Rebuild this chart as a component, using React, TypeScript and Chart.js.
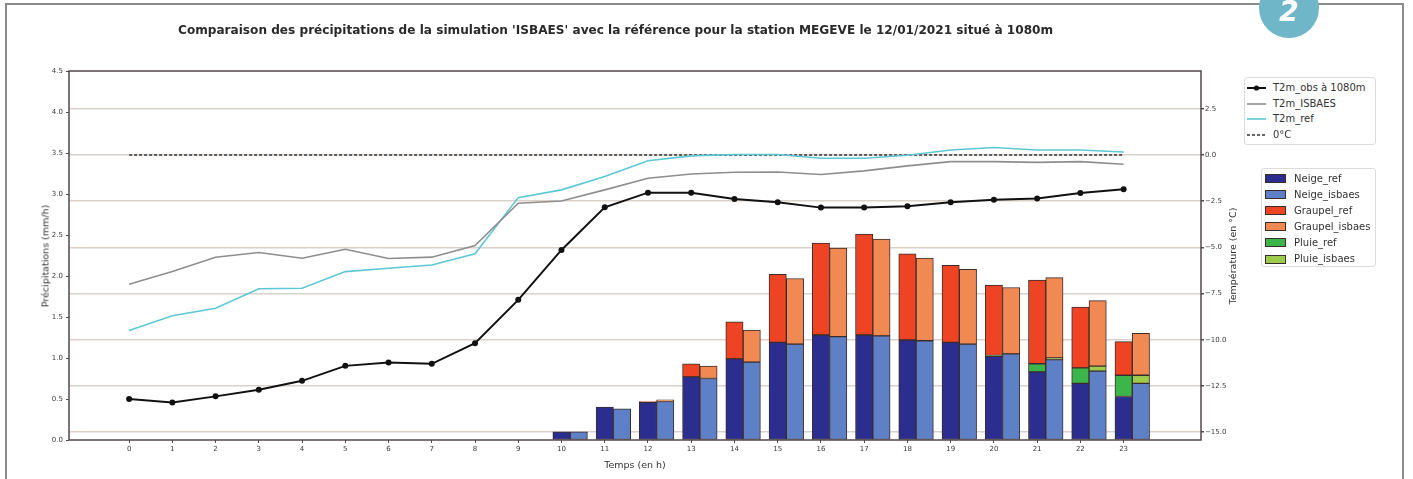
import React, { useEffect, useRef } from 'react';
import { Chart, registerables } from 'chart.js';

Chart.register(...registerables);

// ---------------- data ----------------
const hours = [0, 1, 2, 3, 4, 5, 6, 7, 8, 9, 10, 11, 12, 13, 14, 15, 16, 17, 18, 19, 20, 21, 22, 23];

// temperatures (°C, right axis)
const t2mObs = [-13.2, -13.39, -13.06, -12.7, -12.22, -11.41, -11.23, -11.3, -10.18, -7.84, -5.14, -2.83, -2.04, -2.04, -2.38, -2.56, -2.85, -2.85, -2.78, -2.56, -2.43, -2.36, -2.06, -1.86];
const t2mIsbaes = [-6.99, -6.31, -5.53, -5.28, -5.59, -5.1, -5.6, -5.53, -4.9, -2.61, -2.49, -1.89, -1.26, -1.03, -0.94, -0.92, -1.06, -0.86, -0.59, -0.36, -0.36, -0.4, -0.36, -0.5];
const t2mRef = [-9.5, -8.7, -8.29, -7.24, -7.21, -6.31, -6.13, -5.95, -5.35, -2.31, -1.89, -1.17, -0.31, -0.05, 0.02, 0.02, -0.18, -0.18, -0.02, 0.27, 0.4, 0.27, 0.27, 0.16];
const zeroDeg = [0, 0, 0, 0, 0, 0, 0, 0, 0, 0, 0, 0, 0, 0, 0, 0, 0, 0, 0, 0, 0, 0, 0, 0];

// precipitation (mm/h, left axis)
const neigeRef = [0, 0, 0, 0, 0, 0, 0, 0, 0, 0, 0.1, 0.4, 0.46, 0.77, 0.99, 1.19, 1.28, 1.28, 1.22, 1.19, 1.02, 0.83, 0.69, 0.53];
const pluieRef = [0, 0, 0, 0, 0, 0, 0, 0, 0, 0, 0, 0, 0, 0, 0, 0, 0, 0, 0, 0, 0.01, 0.1, 0.19, 0.26];
const graupelRef = [0, 0, 0, 0, 0, 0, 0, 0, 0, 0, 0, 0, 0.01, 0.16, 0.45, 0.83, 1.12, 1.23, 1.05, 0.94, 0.86, 1.02, 0.74, 0.41];
const neigeIsbaes = [0, 0, 0, 0, 0, 0, 0, 0, 0, 0, 0.1, 0.38, 0.47, 0.75, 0.95, 1.17, 1.26, 1.27, 1.21, 1.17, 1.05, 0.98, 0.84, 0.69];
const pluieIsbaes = [0, 0, 0, 0, 0, 0, 0, 0, 0, 0, 0, 0, 0, 0, 0, 0, 0, 0, 0, 0, 0, 0.02, 0.06, 0.1];
const graupelIsbaes = [0, 0, 0, 0, 0, 0, 0, 0, 0, 0, 0, 0, 0.02, 0.15, 0.39, 0.8, 1.08, 1.18, 1.01, 0.91, 0.81, 0.98, 0.8, 0.51];

const leftTicks = [0, 0.5, 1, 1.5, 2, 2.5, 3, 3.5, 4, 4.5];
const rightTicks = [-15, -12.5, -10, -7.5, -5, -2.5, 0, 2.5];

const TITLE = "Comparaison des précipitations de la simulation 'ISBAES' avec la référence pour la station MEGEVE le 12/01/2021 situé à 1080m";

const lineLegend = [
  { label: 'T2m_obs à 1080m', color: '#111111', width: 2, dash: false, marker: true },
  { label: 'T2m_ISBAES', color: '#8e8e8e', width: 1.6, dash: false, marker: false },
  { label: 'T2m_ref', color: '#5cc8d4', width: 1.6, dash: false, marker: false },
  { label: '0°C', color: '#333333', width: 1.5, dash: true, marker: false },
];
const barLegend = [
  { label: 'Neige_ref', color: '#2b2e8e' },
  { label: 'Neige_isbaes', color: '#5e80c6' },
  { label: 'Graupel_ref', color: '#ef4424' },
  { label: 'Graupel_isbaes', color: '#f08a52' },
  { label: 'Pluie_ref', color: '#3cb54a' },
  { label: 'Pluie_isbaes', color: '#9ccb4e' },
];

const FONT = "'DejaVu Sans', sans-serif";
const TICK_COLOR = '#3a3a3a';

const framePlugin = {
  id: 'frame',
  afterDraw(chart: any) {
    const { ctx, chartArea } = chart;
    ctx.save();
    ctx.strokeStyle = '#52474a';
    ctx.lineWidth = 1.5;
    ctx.strokeRect(chartArea.left, chartArea.top, chartArea.right - chartArea.left, chartArea.bottom - chartArea.top);
    ctx.restore();
  },
};

function fmtMinus(v: number) {
  return v.toFixed(1).replace('-', '\u2212');
}

export default function App() {
  const canvasRef = useRef<HTMLCanvasElement>(null);

  useEffect(() => {
    const barDs = (label: string, values: number[], color: string, stack: string, offset: number) => ({
      type: 'bar' as const,
      label,
      data: hours.map((h, i) => ({ x: h + offset, y: values[i] })),
      backgroundColor: color,
      borderColor: '#3b2c2c',
      borderWidth: 1,
      borderSkipped: false,
      grouped: false,
      barPercentage: 1,
      categoryPercentage: 1,
      stack,
      yAxisID: 'y',
    });
    const lineDs = (label: string, values: number[], color: string, width: number, extra: any = {}) => ({
      type: 'line' as const,
      label,
      data: hours.map((h, i) => ({ x: h, y: values[i] })),
      borderColor: color,
      backgroundColor: color,
      borderWidth: width,
      pointRadius: 0,
      tension: 0,
      yAxisID: 'y2',
      ...extra,
    });

    const chart = new Chart(canvasRef.current as HTMLCanvasElement, {
      type: 'bar',
      data: {
        datasets: [
          lineDs('T2m_obs à 1080m', t2mObs, '#111111', 2, { pointRadius: 3, pointBorderWidth: 0, pointBackgroundColor: '#111111' }),
          lineDs('T2m_ISBAES', t2mIsbaes, '#8e8e8e', 1.6),
          lineDs('T2m_ref', t2mRef, '#5cc8d4', 1.6),
          lineDs('0°C', zeroDeg, '#333333', 1.5, { borderDash: [3, 2] }),
          barDs('Neige_ref', neigeRef, barLegend[0].color, 'ref', 0),
          barDs('Neige_isbaes', neigeIsbaes, barLegend[1].color, 'isbaes', 0.4),
          barDs('Pluie_ref', pluieRef, barLegend[4].color, 'ref', 0),
          barDs('Pluie_isbaes', pluieIsbaes, barLegend[5].color, 'isbaes', 0.4),
          barDs('Graupel_ref', graupelRef, barLegend[2].color, 'ref', 0),
          barDs('Graupel_isbaes', graupelIsbaes, barLegend[3].color, 'isbaes', 0.4),
        ] as any,
      },
      options: {
        responsive: false,
        animation: false,
        devicePixelRatio: 1,
        layout: { padding: { top: 71, left: 0, right: 0, bottom: 0 } },
        plugins: {
          legend: { display: false },
          title: { display: false },
          tooltip: { enabled: false },
        },
        scales: {
          x: {
            type: 'linear',
            offset: false,
            min: -1.39,
            max: 24.79,
            stacked: false,
            ticks: {
              stepSize: 1,
              autoSkip: false,
              maxRotation: 0,
              padding: 2,
              color: TICK_COLOR,
              font: { family: FONT, size: 7 },
              callback: (v: any) => String(v),
            },
            afterBuildTicks: (scale: any) => {
              scale.ticks = hours.map((h) => ({ value: h }));
            },
            grid: { display: true, offset: false, drawOnChartArea: false, drawTicks: true, tickLength: 3, tickColor: '#52474a' },
            border: { display: false },
            afterFit: (scale: any) => {
              scale.height = 39;
            },
          },
          y: {
            type: 'linear',
            position: 'left',
            min: 0,
            max: 4.5,
            stacked: true,
            ticks: {
              stepSize: 0.5,
              padding: 3,
              color: TICK_COLOR,
              font: { family: FONT, size: 7 },
              callback: (v: any) => Number(v).toFixed(1),
            },
            afterBuildTicks: (scale: any) => {
              scale.ticks = leftTicks.map((v) => ({ value: v }));
            },
            grid: { display: true, drawOnChartArea: false, drawTicks: true, tickLength: 3, tickColor: '#52474a' },
            border: { display: false },
            afterFit: (scale: any) => {
              scale.width = 69;
            },
          },
          y2: {
            type: 'linear',
            position: 'right',
            min: -15.42,
            max: 4.54,
            ticks: {
              stepSize: 2.5,
              padding: 1,
              color: TICK_COLOR,
              font: { family: FONT, size: 7 },
              callback: (v: any) => fmtMinus(Number(v)),
            },
            afterBuildTicks: (scale: any) => {
              scale.ticks = rightTicks.map((v) => ({ value: v }));
            },
            grid: {
              display: true,
              drawOnChartArea: true,
              drawTicks: true,
              tickLength: 3,
              color: '#d9d1cc',
              lineWidth: 1.5,
              tickColor: '#52474a',
            },
            border: { display: false },
            afterFit: (scale: any) => {
              scale.width = 212;
            },
          },
        },
      } as any,
      plugins: [framePlugin],
    });
    return () => chart.destroy();
  }, []);

  const textStyle: React.CSSProperties = { fontFamily: FONT, color: '#333', whiteSpace: 'nowrap', position: 'absolute' };

  return (
    <div style={{ position: 'absolute', left: 0, top: 0, width: 1413, height: 479, overflow: 'hidden', background: '#ffffff' }}>
      <canvas ref={canvasRef} width={1413} height={479} style={{ position: 'absolute', left: 0, top: 0 }} />

      {/* outer frame of the figure */}
      <div style={{ position: 'absolute', left: 5, top: 3, width: 1399, height: 520, border: '2px solid #8a8a8a', boxSizing: 'border-box' }} />

      {/* badge */}
      <div style={{ position: 'absolute', left: 1259, top: -22, width: 60, height: 60, borderRadius: '50%', background: '#6fb6c8' }} />
      <div style={{ ...textStyle, left: 1279, top: -5, fontSize: 28, fontWeight: 700, fontStyle: 'italic', color: '#ffffff' }}>2</div>

      {/* title */}
      <div style={{ ...textStyle, left: 178, top: 30, transform: 'translateY(-50%)', fontSize: 12.1, fontWeight: 700, color: '#2a2a2a' }}>{TITLE}</div>

      {/* axis titles */}
      <div style={{ ...textStyle, left: 45, top: 256, transform: 'translate(-50%, -50%) rotate(-90deg)', fontSize: 9.5 }}>Précipitations (mm/h)</div>
      <div style={{ ...textStyle, left: 1232, top: 256, transform: 'translate(-50%, -50%) rotate(-90deg)', fontSize: 9.5 }}>Température (en °C)</div>
      <div style={{ ...textStyle, left: 635, top: 464, transform: 'translate(-50%, -50%)', fontSize: 9.5 }}>Temps (en h)</div>

      {/* line legend */}
      <div style={{ position: 'absolute', left: 1244, top: 77, width: 132, height: 68, border: '1px solid #dcdcdc', borderRadius: 3, boxSizing: 'border-box', background: '#fff' }}>
        {lineLegend.map((it, i) => {
          const cy = 10 + i * 15.6;
          return (
            <React.Fragment key={it.label}>
              <svg style={{ position: 'absolute', left: 2, top: cy - 6 }} width={20} height={12}>
                <line x1={0} y1={6} x2={19} y2={6} stroke={it.color} strokeWidth={it.width} strokeDasharray={it.dash ? '3 2' : undefined} />
                {it.marker ? <circle cx={9.5} cy={6} r={2.6} fill={it.color} /> : null}
              </svg>
              <div style={{ ...textStyle, left: 28, top: cy - 7, fontSize: 10, lineHeight: '14px' }}>{it.label}</div>
            </React.Fragment>
          );
        })}
      </div>

      {/* bar legend */}
      <div style={{ position: 'absolute', left: 1261, top: 168, width: 115, height: 99, border: '1px solid #dcdcdc', borderRadius: 3, boxSizing: 'border-box', background: '#fff' }}>
        {barLegend.map((it, i) => {
          const cy = 9.5 + i * 16.1;
          return (
            <React.Fragment key={it.label}>
              <div style={{ position: 'absolute', left: 3, top: cy - 4.5, width: 21, height: 9, background: it.color, border: '1px solid #3b2c2c', boxSizing: 'border-box' }} />
              <div style={{ ...textStyle, left: 32, top: cy - 7, fontSize: 10, lineHeight: '14px' }}>{it.label}</div>
            </React.Fragment>
          );
        })}
      </div>
    </div>
  );
}
